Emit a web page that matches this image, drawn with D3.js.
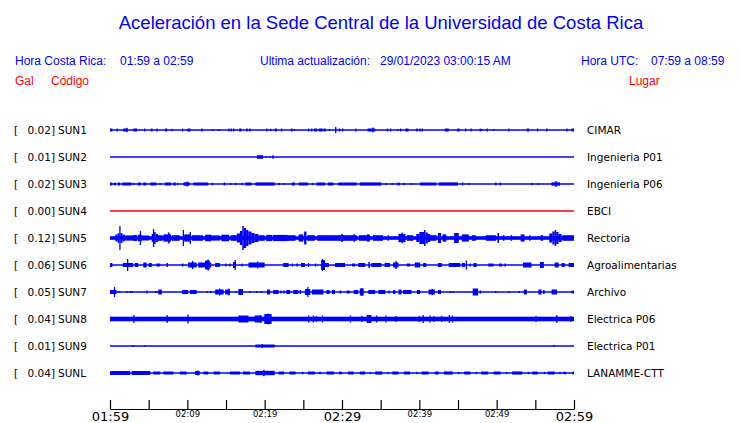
<!DOCTYPE html>
<html><head><meta charset="utf-8">
<script src="https://cdn.jsdelivr.net/npm/d3@7"></script>
<style>body{margin:0;background:#fff}svg{display:block}</style>
</head><body>
<svg id="c" width="740" height="423"></svg>
<script>
// ---------- data ----------
const codes = ["SUN1","SUN2","SUN3","SUN4","SUN5","SUN6","SUN7","SUN8","SUN9","SUNL"];
const places = ["CIMAR","Ingenieria P01","Ingenieria P06","EBCI","Rectoria","Agroalimentarias","Archivo","Electrica P06","Electrica P01","LANAMME-CTT"];
const peaks = ["0.02","0.01","0.02","0.00","0.12","0.06","0.05","0.04","0.01","0.04"];
const traceColors = ["#0000ff","#0000ff","#0000ff","#ff0000","#0000ff","#0000ff","#0000ff","#0000ff","#0000ff","#0000ff"];
const baseLevel = [0,0,0,0,1.8,0,0,2.3,0,0];
const tickMinutes = [0,5,10,15,20,25,30,35,40,45,50,55,60];
const tickLabels = ["01:59","","02:09","","02:19","","02:29","","02:39","","02:49","","02:59"];
const bigTicks = [0,30,60];
// bursts: [start minute, end minute, half amplitude]
const sun1 = [[0,0.3,1.5],[0.85,0.9,1.5],[1.7,2.3,1.5],[2.1,2.15,2.2],[3.0,3.5,1.5],[4.4,4.45,1.5],[5.3,5.5,1.5],[6.0,6.05,1.5],[7.1,7.4,1.5],[7.95,8.0,1.2],[9.3,9.4,1.5],[10.0,10.4,1.5],[11.8,12.0,1.5],[13.2,13.25,1],[14.0,14.05,1],[15.3,15.35,1.5],[15.6,15.65,1.5],[15.9,15.95,1.5],[16.7,17.0,1.5],[17.6,17.8,1.5],[18.0,18.2,1.5],[20.2,20.25,1.5],[20.7,20.75,1.2],[21.3,21.6,1.5],[22.1,22.15,1.5],[23.4,23.6,1.5],[23.8,23.85,1],[25.6,25.65,1.5],[26.0,26.05,1.5],[26.4,26.8,1.5],[27.0,27.5,1.5],[27.6,27.9,1.5],[28.3,28.4,1],[29.1,29.2,3],[29.6,29.65,1.5],[30.0,30.1,1.5],[31.7,31.75,1.5],[33.3,34.3,1.5],[33.9,34.0,2.5],[35.8,35.85,1.5],[36.2,36.25,1.5],[37.1,37.15,1],[37.5,37.55,1.5],[38.2,38.6,1.5],[39.6,39.8,1.5],[40.0,40.05,1.5],[40.3,40.35,1.5],[43.3,43.8,1.5],[44.9,45.2,1.5],[45.9,45.95,1.5],[46.6,46.65,1.5],[47.8,47.85,1.5],[48.0,48.05,1],[48.7,48.75,1.5],[49.5,49.55,1],[51.5,51.55,1.5],[53.9,54.2,1.5],[55.2,55.25,1.5],[56.4,56.5,1.5],[59.0,59.05,1.5],[59.7,60,1.5]];
const sun2 = [[19.0,19.8,1.8],[20.1,20.15,0.8],[20.6,20.65,0.8],[21.0,21.1,1.8]];
const sun3 = [[0,0.3,1.5],[0.5,0.8,1.3],[1.0,1.3,1.5],[1.6,2.8,1.5],[3.0,3.1,1.2],[3.6,4.0,1.5],[4.3,4.7,1.5],[5.2,6.0,1.5],[6.4,6.45,1.2],[7.1,7.9,1.5],[8.2,8.5,1.5],[8.7,8.8,1.2],[9.5,10.3,1.7],[9.9,10.0,2.5],[10.8,12.7,1.5],[13.15,13.2,1.2],[14.7,14.9,1.5],[15.5,15.55,1],[16.15,16.2,1.2],[17.0,17.1,1.2],[17.5,18.3,1.5],[18.8,21.3,1.6],[21.8,21.85,1.2],[22.4,22.45,1],[23.5,23.9,1.5],[24.4,25.6,1.5],[26.1,26.15,1.2],[26.7,27.8,1.5],[28.2,28.9,1.5],[29.5,30.2,1.5],[30.2,31.9,1.5],[32.3,35.1,1.6],[35.6,35.7,1.2],[36.4,36.45,1],[37.1,37.5,1.3],[37.9,37.95,1.2],[38.9,38.95,1],[40.1,42.2,1.5],[42.5,45.0,1.6],[45.5,45.6,1.5],[46.3,46.35,1],[49.8,49.9,1.5],[50.4,50.5,1.5],[54.5,54.6,1.2],[55.3,55.35,0.8],[57.1,58.2,1.7],[57.6,57.7,3]];
const sun4 = [];
const sun5 = [[0.7,1.0,3.5],[1.0,1.2,5],[1.2,1.35,12],[1.35,1.6,5],[1.6,1.9,3.5],[1.9,3.0,2.6],[3.0,3.5,3],[3.6,4.1,3.3],[3.85,3.95,7],[4.1,5.1,2.5],[5.4,5.55,4],[5.55,5.7,9],[5.7,5.9,6],[5.9,6.2,4],[6.2,6.8,2.8],[6.9,7.9,3.6],[7.5,7.7,5.5],[8.0,9.0,2.8],[9.4,9.55,8],[9.6,10.4,3.6],[10.3,10.4,6],[10.6,12.0,2.8],[12.3,13.1,3.3],[13.1,14.2,2.6],[14.4,15.4,3.3],[15.6,16.4,2.8],[16.4,16.8,4.5],[16.8,17.1,7],[17.1,17.3,12],[17.3,17.6,10],[17.6,17.9,8],[17.9,18.3,6.5],[18.3,18.7,5],[18.7,19.2,4],[19.2,20.0,2.8],[20.2,21.0,3.1],[21.1,23.0,3.1],[23.0,24.0,2.8],[24.4,25.0,3.6],[25.1,25.4,6.5],[25.5,26.5,2.8],[26.8,30.2,2.8],[29.9,30.1,4],[30.0,31.9,2.8],[31.5,31.6,4],[32.2,33.2,2.8],[33.2,33.6,3.6],[34.0,35.3,2.8],[35.9,36.0,2.8],[37.3,38.2,4.2],[37.7,37.85,5.5],[38.4,39.2,2.8],[39.6,40.0,4],[40.0,40.6,6],[40.6,40.8,8],[40.8,41.1,5.5],[41.1,41.4,4],[41.4,42.2,2.8],[42.4,42.8,5],[43.0,43.5,3.6],[44.5,45.1,5],[45.5,46.4,3.6],[46.8,47.3,2.8],[48.6,49.9,2.8],[50.1,50.3,5],[50.8,51.0,2.8],[51.8,52.0,2.8],[53.1,53.6,3.6],[54.2,54.3,2.8],[55.7,56.0,2.8],[56.8,57.2,4.5],[57.2,57.5,6.5],[57.5,57.7,8],[57.7,58.0,6],[58.0,58.4,4],[58.5,60,2.8]];
const sun6 = [[0,0.3,2],[1.65,2.2,2],[2.2,3.0,2],[2.2,2.3,6],[3.2,3.66,2],[4.3,4.74,2.5],[5.0,5.4,2],[6.0,6.5,1.5],[7.3,7.5,2],[9.3,9.5,1.5],[10.1,11.2,2.5],[10.6,10.7,4],[11.4,13.1,2.5],[12.3,12.9,4.5],[12.6,12.7,5.5],[13.6,14.2,2],[14.9,15.0,1.5],[15.4,15.45,1.5],[15.9,16.3,3],[16.1,16.2,5],[17.0,17.05,1.5],[17.9,20.0,2.5],[19.0,19.1,3.5],[22.4,23.1,2],[23.5,23.55,1.5],[24.1,24.3,1.5],[24.7,25.2,2],[25.6,25.65,2],[26.5,26.55,1.5],[27.3,27.8,5],[27.4,27.5,6],[27.8,28.3,2],[29.1,30.4,2],[31.3,31.7,1.5],[32.1,33.0,2],[33.4,33.6,3],[33.8,35.1,2],[35.5,36.2,2],[36.6,37.3,2.5],[36.9,37.0,4],[38.4,38.8,1.5],[39.4,40.1,2.5],[40.5,40.9,2],[42.4,42.9,2],[43.8,45.3,2],[45.5,45.9,2],[46.0,46.1,4.5],[46.5,46.55,1.5],[47.0,47.4,2],[48.9,49.6,1.5],[50.3,50.7,1.5],[51.0,51.2,1.5],[53.4,54.5,2.5],[55.6,56.1,3],[57.5,58.0,2.5],[58.4,58.8,2],[59.3,60,2]];
const sun7 = [[0,0.85,2],[0.5,0.6,5],[1.1,1.15,1],[2.1,2.15,1],[2.6,2.65,1],[2.8,2.85,1],[4.7,4.8,1.5],[5.8,5.85,1],[6.0,6.05,1],[6.25,6.7,2.5],[9.3,10.1,2],[10.35,11.2,2],[12.5,12.55,1],[12.9,12.95,1],[13.6,14.7,2.5],[14.1,14.2,3.5],[14.9,15.5,2.5],[15.3,15.4,3.5],[16.2,16.25,1],[16.6,17.2,3],[18.0,18.05,1],[18.9,18.95,1],[19.5,19.55,1],[20.3,20.7,2.5],[21.1,21.8,2],[22.0,22.1,1.5],[22.4,22.6,1.5],[22.8,23.3,2],[23.7,24.35,2],[24.5,24.7,2],[25.2,25.9,3],[25.5,25.6,5],[26.1,27.6,2.5],[28.0,28.4,2],[28.7,29.1,2],[29.7,29.9,1.5],[30.6,31.0,1.5],[31.5,32.1,2],[32.3,32.8,3.5],[32.5,32.6,4],[33.4,34.3,2],[34.7,35.6,2],[36.0,36.05,1.5],[36.6,36.9,2],[37.3,37.7,2.5],[37.9,39.0,2],[39.7,40.1,2],[41.2,42.0,2.5],[41.6,41.7,3],[42.4,42.8,2],[43.9,43.95,1],[44.3,44.35,1],[46.9,47.6,3.5],[47.8,48.0,1.5],[49.8,49.85,1],[51.5,51.55,1],[52.8,52.85,1],[53.5,53.9,2.5],[55.4,55.8,2.5],[56.0,56.2,2],[57.1,57.8,2.5],[59.7,60,1.5]];
const sun8 = [[3.0,3.1,4],[7.3,7.4,4],[10.0,10.1,4.5],[16.6,17.9,3.5],[18.7,19.6,3.5],[19.4,19.5,4],[19.95,20.9,5],[20.4,20.5,5.5],[25.6,25.65,3.5],[26.2,26.25,3.5],[26.6,26.65,2.8],[27.4,27.45,3.5],[31.0,31.05,3.5],[32.5,32.55,3],[33.2,33.8,4],[34.4,34.45,3.5],[35.6,35.65,3.5],[36.9,36.95,3],[39.9,39.95,3],[40.4,40.45,4],[41.3,41.35,3.5],[41.8,41.85,3],[42.8,42.85,3],[43.8,43.85,4],[44.2,44.25,3.5],[55.0,55.05,3],[57.7,57.75,4],[59.5,59.55,3]];
const sun9 = [[2.9,2.95,1],[4.4,4.45,0.8],[18.8,21.3,1.5],[19.6,19.7,2],[57.3,57.35,1]];
const sunl = [[0,2.6,2],[2.8,5.2,2],[5.6,6.5,1.5],[6.9,8.2,1.5],[9.05,9.9,1.5],[11.0,11.6,2],[11.3,11.4,2.5],[12.1,12.7,1.5],[13.4,14.2,1.5],[15.5,16.8,1.5],[17.2,18.1,1.5],[18.8,21.3,2.2],[19.8,20.0,3.2],[21.8,22.5,1.5],[23.2,24.0,1.5],[24.8,25.0,1.2],[25.6,26.5,1.5],[27.0,27.3,1.2],[28.0,29.0,1.5],[29.6,30.0,1.3],[30.8,31.5,1.5],[32.3,33.0,1.5],[33.6,33.7,1.2],[34.3,35.2,1.6],[35.9,36.0,1.2],[36.5,37.3,1.5],[38.0,38.8,1.5],[39.6,39.7,1.2],[40.3,41.2,1.5],[42.0,42.5,1.5],[43.2,44.3,1.6],[45.0,45.1,1.2],[45.8,46.6,1.5],[47.3,47.4,1.2],[48.0,48.9,1.5],[49.6,50.5,1.5],[51.2,51.3,1.2],[52.0,53.3,1.6],[54.0,54.2,1.2],[54.6,55.3,1.5],[56.1,56.2,1.2],[56.6,57.5,1.5],[58.1,58.2,1.2],[58.6,59.0,1.2],[59.8,60,1.5]];
const bursts = [sun1,sun2,sun3,sun4,sun5,sun6,sun7,sun8,sun9,sunl];

// ---------- drawing ----------
const svg = d3.select("#c");
const BLUE = "#0000ff", RED = "#ff0000";
const x = d3.scaleLinear().domain([0,60]).range([110,574]);
const y = d3.scaleBand().domain(codes).range([116.5,386.5]);
const amp = d3.scaleLinear().domain([0,12]).range([0,12]);
const hdr = "'Liberation Sans', Arial, sans-serif";
const dj = "'DejaVu Sans', sans-serif";

svg.append("text").attr("x",381).attr("y",29).attr("text-anchor","middle")
  .attr("font-family",hdr).attr("font-size",18.5).attr("fill",BLUE)
  .text("Aceleración en la Sede Central de la Universidad de Costa Rica");

const t2 = [[15,"Hora Costa Rica:"],[120,"01:59 a 02:59"],[260,"Ultima actualización:"],[380,"29/01/2023 03:00:15 AM"],[581,"Hora UTC:"],[651,"07:59 a 08:59"]];
t2.forEach(d=>svg.append("text").attr("x",d[0]).attr("y",65).attr("font-family",hdr).attr("font-size",12).attr("fill",BLUE).text(d[1]));
[[15,"Gal"],[51,"Código"],[629,"Lugar"]].forEach(d=>svg.append("text").attr("x",d[0]).attr("y",85).attr("font-family",hdr).attr("font-size",12).attr("fill",RED).text(d[1]));

codes.forEach((c,i)=>{
  const cy = y(c) + y.bandwidth()/2;
  const g = svg.append("g");
  g.append("text").attr("x",14).attr("y",cy+4).attr("font-family",dj).attr("font-size",10.5).text("[");
  g.append("text").attr("x",55).attr("y",cy+4).attr("text-anchor","end").attr("font-family",dj).attr("font-size",10.5).text(peaks[i]+"]");
  g.append("text").attr("x",58).attr("y",cy+4).attr("font-family",dj).attr("font-size",10.5).text(c);
  g.append("text").attr("x",587).attr("y",cy+4).attr("font-family",dj).attr("font-size",10.5).text(places[i]);
  const col = traceColors[i];
  g.append("line").attr("x1",x(0)).attr("x2",x(60)).attr("y1",cy).attr("y2",cy)
    .attr("stroke",col).attr("stroke-width",1.3);
  if (baseLevel[i]>0) {
    g.append("rect").attr("x",x(0)).attr("width",x(60)-x(0))
      .attr("y",cy-amp(baseLevel[i])).attr("height",2*amp(baseLevel[i])).attr("fill",col);
  }
  g.selectAll("rect.b").data(bursts[i]).join("rect").attr("class","b")
    .attr("x",d=>x(d[0]))
    .attr("width",d=>Math.max(1.3,x(d[1])-x(d[0])))
    .attr("y",d=>cy-amp(d[2])).attr("height",d=>2*amp(d[2]))
    .attr("fill",col);
});

const axis = d3.axisBottom(x).tickValues(tickMinutes).tickSizeInner(-9).tickSizeOuter(0)
  .tickPadding(0).tickFormat((d,i)=>tickLabels[i]);
const ag = svg.append("g").attr("transform","translate(0,409)").call(axis);
ag.select(".domain").attr("stroke","#000").attr("stroke-width",1.2);
ag.selectAll(".tick line").attr("stroke","#000").attr("stroke-width",1.2);
ag.selectAll(".tick text")
  .attr("font-family",dj).attr("fill","#000").attr("dy",null)
  .attr("font-size",d=>bigTicks.includes(d)?13:8.5)
  .attr("y",d=>bigTicks.includes(d)?12:8);
</script>
</body></html>
